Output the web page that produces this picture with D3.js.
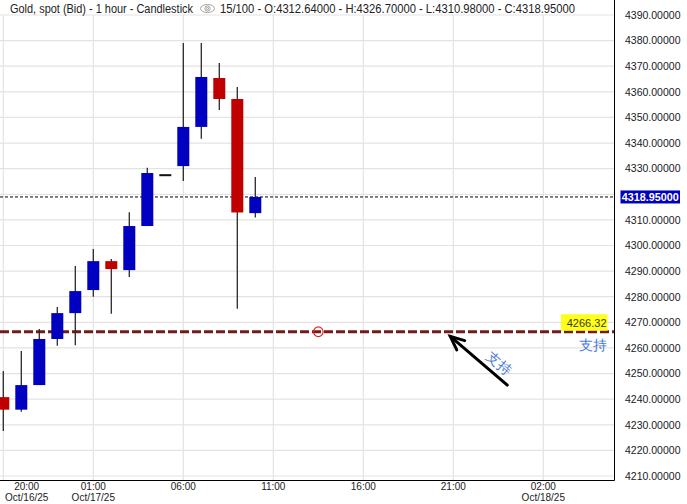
<!DOCTYPE html>
<html>
<head>
<meta charset="utf-8">
<script src="https://cdn.jsdelivr.net/npm/d3@7"></script>
<style>
  html, body { margin: 0; padding: 0; background: #fff; }
  svg { display: block; }
  text { font-family: "Liberation Sans", Arial, sans-serif; }
</style>
</head>
<body>
<div id="chart"></div>
<script>
// ---- data ----
const times = ["2025-10-16T20:00","2025-10-16T21:00","2025-10-16T22:00","2025-10-16T23:00",
  "2025-10-17T00:00","2025-10-17T01:00","2025-10-17T02:00","2025-10-17T03:00","2025-10-17T04:00",
  "2025-10-17T05:00","2025-10-17T06:00","2025-10-17T07:00","2025-10-17T08:00","2025-10-17T09:00",
  "2025-10-17T10:00"];
const openV  = [4240.8, 4235.9, 4245.5, 4263.5, 4273.6, 4282.6, 4293.9, 4290.4, 4307.6, 4327.4, 4331.0, 4346.3, 4365.4, 4357.2, 4312.64];
const highV  = [4251.0, 4258.8, 4267.4, 4276.0, 4292.0, 4298.6, 4294.7, 4313.0, 4330.4, 4327.6, 4379.1, 4379.1, 4371.3, 4361.9, 4326.70];
const lowV   = [4227.6, 4235.1, 4245.5, 4260.9, 4261.1, 4280.0, 4273.4, 4287.7, 4307.6, 4327.2, 4325.2, 4341.7, 4352.9, 4275.3, 4310.98];
const closeV = [4235.9, 4245.5, 4263.5, 4273.6, 4282.2, 4293.9, 4290.8, 4307.6, 4328.3, 4327.5, 4346.3, 4365.8, 4357.2, 4312.9, 4318.95];

const yTicks = d3.range(4210, 4391, 10);
const xTickTimes = ["2025-10-16T20:00","2025-10-17T01:00","2025-10-17T06:00","2025-10-17T11:00",
  "2025-10-17T16:00","2025-10-17T21:00","2025-10-18T02:00"];
const xTickTimeLabels = ["20:00","01:00","06:00","11:00","16:00","21:00","02:00"];
const xTickDateLabels = ["Oct/16/25","Oct/17/25","","","","","Oct/18/25"];

const titleLeft = "Gold, spot (Bid) - 1 hour - Candlestick";
const titleRight = "15/100 - O:4312.64000 - H:4326.70000 - L:4310.98000 - C:4318.95000";
const lastPrice = 4318.95;
const supportLevel = 4266.32;
const supportText = "支持";
const supportMarkTime = "2025-10-17T13:30";

// ---- layout ----
const W = 687, H = 504;
const plotRight = 614.5, plotBottom = 480.5;
const parse = d3.timeParse("%Y-%m-%dT%H:%M");
const t0 = parse(times[0]);
const hour = 3600e3;

const x = d3.scaleTime()
  .domain([new Date(+t0 - 3.3 / 18 * hour), new Date(+t0 + (614.5 - 3.3) / 18 * hour)])
  .range([0, plotRight]);
const y = d3.scaleLinear().domain([4210, 4390]).range([476, 15]);

const svg = d3.select("#chart").append("svg").attr("width", W).attr("height", H);

// gridlines
const grid = svg.append("g");
grid.selectAll("line.h").data(yTicks).join("line")
  .attr("x1", 0).attr("x2", plotRight)
  .attr("y1", d => y(d)).attr("y2", d => y(d))
  .attr("stroke", "#e3e3e3").attr("stroke-width", 1.2);
grid.selectAll("line.v").data(xTickTimes).join("line")
  .attr("x1", d => x(parse(d))).attr("x2", d => x(parse(d)))
  .attr("y1", y(4390)).attr("y2", plotBottom)
  .attr("stroke", "#e3e3e3").attr("stroke-width", 1.2);

// support line
svg.append("line")
  .attr("x1", 0).attr("x2", plotRight)
  .attr("y1", y(supportLevel)).attr("y2", y(supportLevel))
  .attr("stroke", "#741a1a").attr("stroke-width", 3)
  .attr("stroke-dasharray", "9,3");

// last price dotted line
svg.append("line")
  .attr("x1", 0).attr("x2", plotRight)
  .attr("y1", y(lastPrice)).attr("y2", y(lastPrice))
  .attr("stroke", "#000").attr("stroke-width", 1)
  .attr("stroke-dasharray", "3,2");

// candles
const candles = times.map((t, i) => ({ t: parse(t), o: openV[i], h: highV[i], l: lowV[i], c: closeV[i] }));
const bodyW = 12;
const cg = svg.append("g");
cg.selectAll("line.wick").data(candles).join("line")
  .attr("x1", d => x(d.t)).attr("x2", d => x(d.t))
  .attr("y1", d => y(d.h)).attr("y2", d => y(d.l))
  .attr("stroke", "#2a2a2a").attr("stroke-width", 1.3);
cg.selectAll("rect.body").data(candles).join("rect")
  .attr("x", d => x(d.t) - bodyW / 2)
  .attr("width", bodyW)
  .attr("y", d => Math.abs(d.c - d.o) < 0.5 ? y((d.o + d.c) / 2) - 1 : y(Math.max(d.o, d.c)))
  .attr("height", d => Math.abs(d.c - d.o) < 0.5 ? 2 : y(Math.min(d.o, d.c)) - y(Math.max(d.o, d.c)))
  .attr("fill", d => Math.abs(d.c - d.o) < 0.5 ? "#111" : (d.c > d.o ? "#0000c0" : "#c00000"));

// red circle marker on support line
svg.append("circle")
  .attr("cx", x(parse(supportMarkTime))).attr("cy", y(supportLevel))
  .attr("r", 4.8).attr("fill", "none").attr("stroke", "#e02424").attr("stroke-width", 1.2);

// arrow
const tip = [x(parse("2025-10-17T20:50")), y(4264.5)];
const tail = [x(parse("2025-10-18T00:00")), y(4245.5)];
const ang = Math.atan2(tail[1] - tip[1], tail[0] - tip[0]);
const ah = 15, spread = 0.42;
const ag = svg.append("g").attr("stroke", "#000").attr("stroke-width", 3).attr("stroke-linecap", "round").attr("fill", "none");
ag.append("line").attr("x1", tail[0]).attr("y1", tail[1]).attr("x2", tip[0]).attr("y2", tip[1]);
ag.append("path").attr("d",
  `M${tip[0] + ah * Math.cos(ang - spread)},${tip[1] + ah * Math.sin(ang - spread)} L${tip[0]},${tip[1]} L${tip[0] + ah * Math.cos(ang + spread)},${tip[1] + ah * Math.sin(ang + spread)}`)
  .attr("stroke-linejoin", "miter");

// rotated text along arrow
const midX = (tip[0] + tail[0]) / 2 + 20, midY = (tip[1] + tail[1]) / 2 + 2.5;
svg.append("text")
  .attr("transform", `translate(${midX},${midY}) rotate(${ang * 180 / Math.PI})`)
  .attr("text-anchor", "middle").attr("dy", "0.35em")
  .attr("font-family", "'Noto Sans CJK SC', sans-serif")
  .attr("font-size", 14).attr("fill", "#4a78e0").text(supportText);

// support label (yellow)
const lab = svg.append("g");
lab.append("rect").attr("x", 561).attr("y", y(supportLevel) - 17.5).attr("width", 46.5).attr("height", 16.5).attr("fill", "#ffff1a");
lab.append("text").attr("x", 606.5).attr("y", y(supportLevel) - 4.5).attr("text-anchor", "end")
  .attr("font-size", 11).attr("fill", "#3a3a10").text(d3.format(".2f")(supportLevel));
svg.append("text").attr("x", 593).attr("y", y(supportLevel) + 18)
  .attr("text-anchor", "middle").attr("font-family", "'Noto Sans CJK SC', sans-serif")
  .attr("font-size", 14).attr("fill", "#4a78e0").text(supportText);

// borders
svg.append("line").attr("x1", plotRight).attr("x2", plotRight).attr("y1", 0).attr("y2", plotBottom)
  .attr("stroke", "#000").attr("stroke-width", 1);
svg.append("line").attr("x1", 0).attr("x2", plotRight).attr("y1", plotBottom).attr("y2", plotBottom)
  .attr("stroke", "#000").attr("stroke-width", 1);

// right y axis labels (the one hidden by the last-price box is skipped)
const fmt = d3.format(".5f");
svg.append("g").selectAll("text")
  .data(yTicks.filter(d => Math.abs(y(d) - y(lastPrice)) > 10))
  .join("text")
  .attr("x", 625).attr("y", d => y(d) + 3.8)
  .attr("font-size", 10.5).attr("fill", "#1a1a1a").text(d => fmt(d));

// last price label
svg.append("rect").attr("x", 620.5).attr("y", y(lastPrice) - 6.5).attr("width", 59.5).attr("height", 13)
  .attr("fill", "#0000c0");
svg.append("text").attr("x", 650.3).attr("y", y(lastPrice) + 3.8).attr("text-anchor", "middle")
  .attr("font-size", 10).attr("font-weight", "bold").attr("fill", "#fff")
  .attr("textLength", 57).attr("lengthAdjust", "spacingAndGlyphs").text(fmt(lastPrice));

// x axis labels
const xg = svg.append("g");
xTickTimes.forEach((t, i) => {
  const g = xg.append("g");
  const t1 = g.append("text").attr("y", 489.5).attr("text-anchor", "middle")
    .attr("font-size", 10).attr("fill", "#222").text(xTickTimeLabels[i]);
  const t2 = g.append("text").attr("y", 500.5).attr("text-anchor", "middle")
    .attr("font-size", 10).attr("fill", "#222").text(xTickDateLabels[i]);
  const w = Math.max(t1.node().getComputedTextLength(), t2.node().getComputedTextLength());
  const cx = Math.max(x(parse(t)), w / 2 + 5);
  t1.attr("x", cx); t2.attr("x", cx);
});

// title
svg.append("text").attr("x", 10).attr("y", 12.5).attr("font-size", 12).attr("fill", "#222")
  .attr("textLength", 183).attr("lengthAdjust", "spacingAndGlyphs").text(titleLeft);
const eye = svg.append("g").attr("transform", "translate(207.5,8.5)").attr("fill", "none").attr("stroke", "#999").attr("stroke-width", 0.9);
eye.append("ellipse").attr("rx", 7).attr("ry", 4);
eye.append("circle").attr("r", 2.6);
eye.append("circle").attr("r", 1.1);
svg.append("text").attr("x", 220).attr("y", 12.5).attr("font-size", 12).attr("fill", "#222")
  .attr("textLength", 355).attr("lengthAdjust", "spacingAndGlyphs").text(titleRight);
</script>
</body>
</html>
